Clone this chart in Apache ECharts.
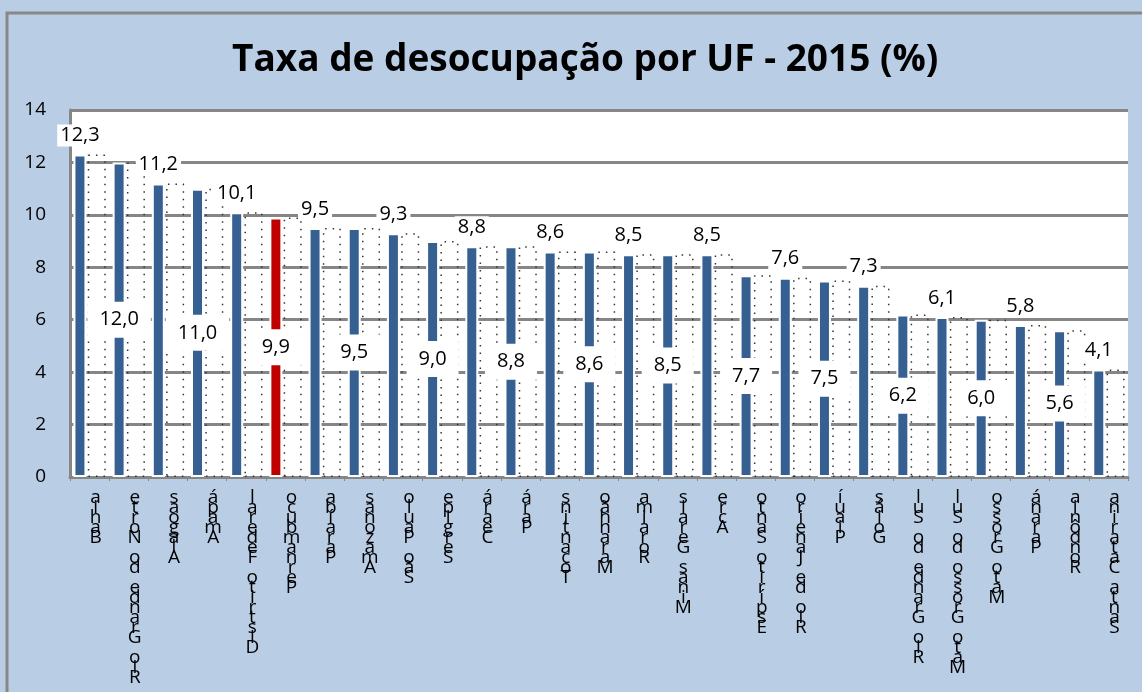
<!DOCTYPE html>
<html>
<head>
<meta charset="utf-8">
<script src="https://cdn.jsdelivr.net/npm/echarts@6/dist/echarts.min.js"></script>
<style>
  html, body { margin: 0; padding: 0; background: #b9cde5; }
  #chart { width: 1142px; height: 692px; }
</style>
</head>
<body>
<div id="chart"></div>
<script>
// UF, em ordem decrescente da taxa de desocupação
var estados = ['Bahia', 'Rio Grande do Norte', 'Alagoas', 'Amapá', 'Distrito Federal',
    'Pernambuco', 'Paraíba', 'Amazonas', 'São Paulo', 'Sergipe', 'Ceará', 'Pará',
    'Tocantins', 'Maranhão', 'Roraima', 'Minas Gerais', 'Acre', 'Espírito Santo',
    'Rio de Janeiro', 'Piauí', 'Goiás', 'Rio Grande do Sul', 'Mato Grosso do Sul',
    'Mato Grosso', 'Paraná', 'Rondônia', 'Santa Catarina'];
var taxas = [12.3, 12.0, 11.2, 11.0, 10.1, 9.9, 9.5, 9.5, 9.3, 9.0, 8.8, 8.8,
    8.6, 8.6, 8.5, 8.5, 8.5, 7.7, 7.6, 7.5, 7.3, 6.2, 6.1, 6.0, 5.8, 5.6, 4.1];
var destaque = 'Pernambuco';
var yTicks = [0, 14, 2];

var fonte = '"Open Sans", "Noto Sans", sans-serif';
var fmt = function (v) { return v.toFixed(1).replace('.', ','); };

var labelTopo = {
    show: true,
    position: 'top',
    distance: 8,
    fontSize: 20,
    color: '#000',
    fontFamily: fonte,
    backgroundColor: '#fff',
    padding: [1, 3]
};
var labelMeio = {
    show: true,
    position: 'inside',
    fontSize: 20,
    color: '#000',
    fontFamily: fonte,
    backgroundColor: '#fff',
    padding: [8, 12]
};

var dadosBarras = taxas.map(function (v, i) {
    var item = { value: v, label: i % 2 === 0 ? labelTopo : labelMeio };
    if (estados[i] === destaque) {
        item.itemStyle = { color: '#c00000' };
    }
    return item;
});

var chart = echarts.init(document.getElementById('chart'));
chart.setOption({
    backgroundColor: '#b9cde5',
    animation: false,
    title: {
        text: 'Taxa de desocupação por UF - 2015 (%)',
        left: 227,
        top: 37,
        textStyle: {
            fontFamily: fonte,
            fontWeight: 'bold',
            fontSize: 37,
            color: '#000'
        }
    },
    graphic: [{
        type: 'rect',
        shape: { x: 7, y: 13, width: 1160, height: 700 },
        style: { fill: 'none', stroke: '#888888', lineWidth: 3 },
        silent: true
    }],
    grid: {
        left: 70,
        right: 14,
        top: 110,
        bottom: 215,
        show: true,
        backgroundColor: '#ffffff',
        borderWidth: 0
    },
    xAxis: {
        type: 'category',
        data: estados,
        axisLine: { lineStyle: { color: '#868686', width: 3 } },
        axisTick: { show: true, length: 4, lineStyle: { color: '#868686' } },
        axisLabel: {
            interval: 0,
            margin: 16,
            fontSize: 19,
            lineHeight: 10,
            color: '#000',
            fontFamily: fonte,
            padding: [0, 0, 0, 12],
            formatter: function (nome) {
                return nome.split('').reverse().join('\n');
            }
        }
    },
    yAxis: {
        type: 'value',
        min: yTicks[0],
        max: yTicks[1],
        interval: yTicks[2],
        axisLine: { show: true, lineStyle: { color: '#868686', width: 3 } },
        axisTick: { show: false },
        axisLabel: {
            margin: 24,
            fontSize: 19,
            color: '#000',
            fontFamily: fonte
        },
        splitLine: { lineStyle: { color: '#868686', width: 3 } }
    },
    series: [
        {
            name: 'Taxa',
            type: 'bar',
            barWidth: 13,
            barGap: '10%',
            z: 3,
            itemStyle: { color: '#376092', borderColor: '#ffffff', borderWidth: 2 },
            label: { formatter: function (p) { return fmt(p.value); } },
            data: dadosBarras
        },
        {
            name: 'contorno',
            type: 'bar',
            barWidth: 18,
            silent: true,
            z: 2,
            itemStyle: {
                color: 'rgba(0,0,0,0)',
                borderColor: '#333333',
                borderWidth: 1.5,
                borderType: [1.5, 6]
            },
            data: taxas
        }
    ]
});
</script>
</body>
</html>
